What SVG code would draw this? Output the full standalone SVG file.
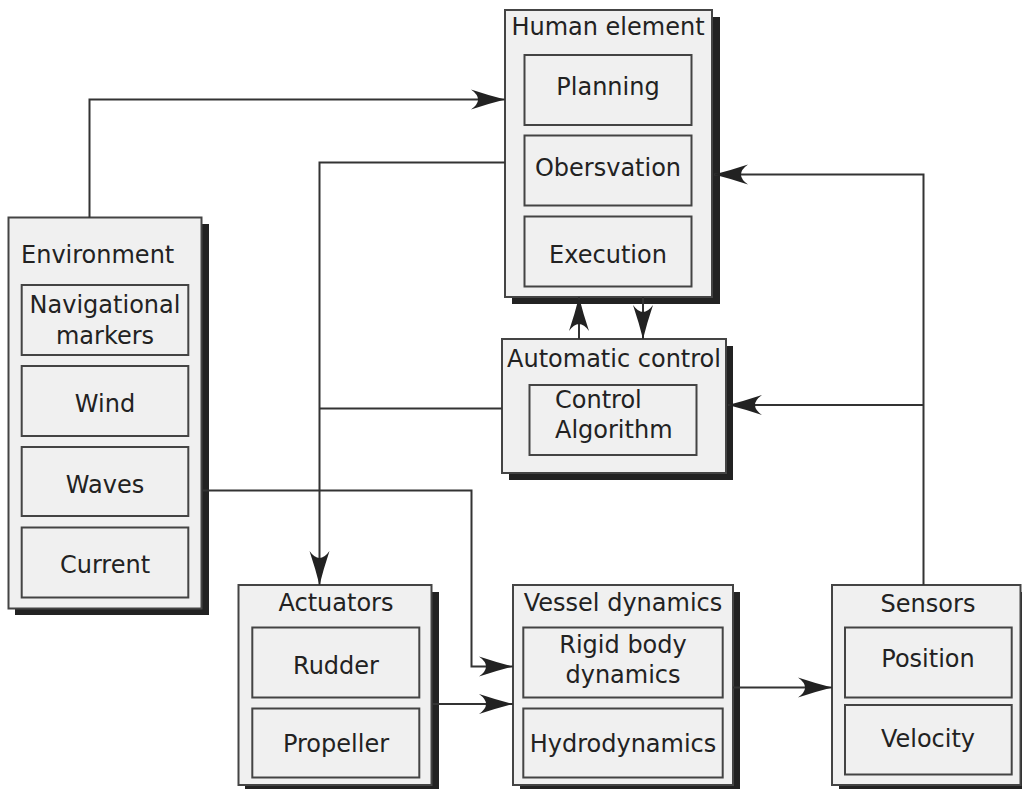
<svg xmlns="http://www.w3.org/2000/svg" width="1022" height="789" viewBox="0 0 1022 789">
<style>
.box{fill:#f0f0f0;stroke:#444;stroke-width:2}
.sh{fill:#222}
.in{fill:#f0f0f0;stroke:#444;stroke-width:2}
text{font-family:"DejaVu Sans",sans-serif;font-size:24px;fill:#222}
.c{text-anchor:middle}
.ln{fill:none;stroke:#333;stroke-width:2}
</style>
<defs>
<marker id="ah" markerUnits="userSpaceOnUse" markerWidth="40" markerHeight="24" viewBox="-36 -12 38 24" refX="0" refY="0" orient="auto">
<path d="M0,0 Q-16,-4 -34,-10 Q-20,0 -34,10 Q-16,4 0,0 Z" fill="#222"/>
</marker>
</defs>
<rect width="1022" height="789" fill="#fff"/>

<g id="human-element">
<rect class="sh" x="512" y="17" width="208" height="287"/>
<rect class="box" x="505" y="10" width="207" height="287"/>
<text class="c" x="608" y="35">Human element</text>
<rect class="in" x="524.5" y="55" width="167" height="70"/>
<text class="c" x="608" y="95">Planning</text>
<rect class="in" x="524.5" y="135.5" width="167" height="70"/>
<text class="c" x="608" y="176">Obersvation</text>
<rect class="in" x="524.5" y="216.5" width="167" height="70"/>
<text class="c" x="608" y="263">Execution</text>
</g>

<g id="automatic-control">
<rect class="sh" x="509" y="346" width="224" height="134"/>
<rect class="box" x="502" y="339" width="224" height="134"/>
<text class="c" x="614" y="367">Automatic control</text>
<rect class="in" x="529.5" y="385" width="167" height="70"/>
<text x="555" y="408">Control</text>
<text x="555" y="438">Algorithm</text>
</g>

<g id="environment">
<rect class="sh" x="15" y="224" width="194" height="391"/>
<rect class="box" x="8.5" y="217.5" width="193" height="391"/>
<text x="21" y="263">Environment</text>
<rect class="in" x="21.7" y="285" width="166.6" height="70"/>
<text class="c" x="105" y="313">Navigational</text>
<text class="c" x="105" y="344">markers</text>
<rect class="in" x="21.7" y="366" width="166.6" height="70"/>
<text class="c" x="105" y="412">Wind</text>
<rect class="in" x="21.7" y="447" width="166.6" height="69"/>
<text class="c" x="105" y="493">Waves</text>
<rect class="in" x="21.7" y="527.5" width="166.6" height="70"/>
<text class="c" x="105" y="573">Current</text>
</g>

<g id="actuators">
<rect class="sh" x="245" y="592" width="194" height="200"/>
<rect class="box" x="238.5" y="585" width="193" height="200"/>
<text class="c" x="336" y="611">Actuators</text>
<rect class="in" x="252.3" y="627.5" width="167" height="70"/>
<text class="c" x="336" y="674">Rudder</text>
<rect class="in" x="252.3" y="708.5" width="167" height="69"/>
<text class="c" x="336" y="752">Propeller</text>
</g>

<g id="vessel-dynamics">
<rect class="sh" x="520" y="592" width="220" height="200"/>
<rect class="box" x="513" y="585" width="220" height="200"/>
<text class="c" x="623" y="611">Vessel dynamics</text>
<rect class="in" x="523.3" y="627.5" width="199.4" height="70"/>
<text class="c" x="623" y="653">Rigid body</text>
<text class="c" x="623" y="683">dynamics</text>
<rect class="in" x="523.3" y="708.5" width="199.4" height="69"/>
<text class="c" x="623" y="752">Hydrodynamics</text>
</g>

<g id="sensors">
<rect class="sh" x="839" y="592" width="183" height="200"/>
<rect class="box" x="832" y="585" width="188.5" height="200"/>
<text class="c" x="928" y="612">Sensors</text>
<rect class="in" x="845" y="627.5" width="166.7" height="70"/>
<text class="c" x="928" y="667">Position</text>
<rect class="in" x="845" y="705" width="166.7" height="69.5"/>
<text class="c" x="928" y="747">Velocity</text>
</g>

<g id="connectors">
<polyline class="ln" points="89.5,217.5 89.5,99.5 505,99.5" marker-end="url(#ah)"/>
<polyline class="ln" points="505,162.5 319.5,162.5 319.5,585" marker-end="url(#ah)"/>
<line class="ln" x1="502" y1="408.5" x2="319.5" y2="408.5"/>
<line class="ln" x1="579" y1="339" x2="579" y2="297" marker-end="url(#ah)"/>
<line class="ln" x1="643" y1="297" x2="643" y2="339" marker-end="url(#ah)"/>
<polyline class="ln" points="202,490.5 471.5,490.5 471.5,666.5 513,666.5" marker-end="url(#ah)"/>
<line class="ln" x1="432" y1="704" x2="513" y2="704" marker-end="url(#ah)"/>
<line class="ln" x1="733" y1="687.5" x2="832" y2="687.5" marker-end="url(#ah)"/>
<polyline class="ln" points="923.5,585 923.5,174.5 714,174.5" marker-end="url(#ah)"/>
<polyline class="ln" points="923.5,405 728,405" marker-end="url(#ah)"/>
</g>
</svg>
